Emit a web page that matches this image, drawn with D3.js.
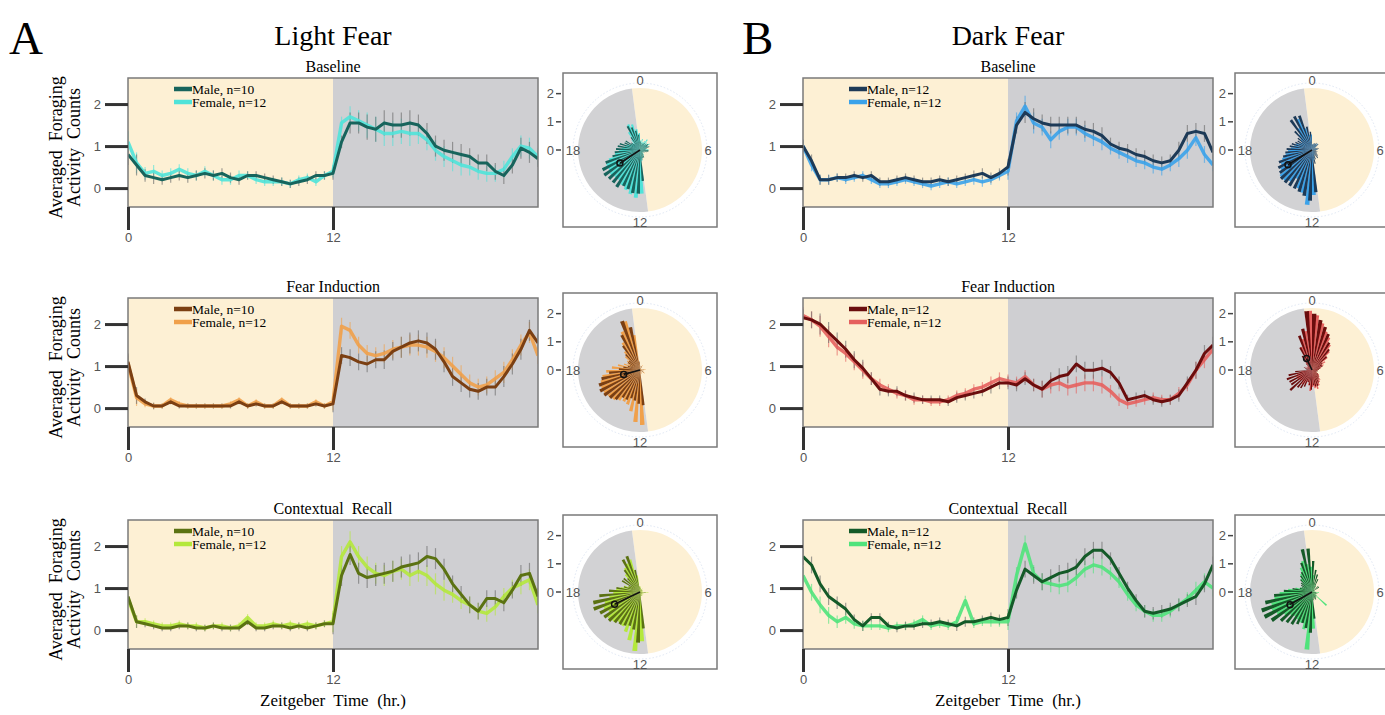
<!DOCTYPE html>
<html>
<head>
<meta charset="utf-8">
<script src="https://cdn.jsdelivr.net/npm/d3@7"></script>
<style>
  body { margin: 0; background: #fff; }
  svg { display: block; }
</style>
</head>
<body>
<svg id="fig" width="1385" height="715"></svg>
<script>
// time stamps (hr.) of the averaged bins
const hours = [0,0.5,1,1.5,2,2.5,3,3.5,4,4.5,5,5.5,6,6.5,7,7.5,8,8.5,9,9.5,10,10.5,11,11.5,12,
  12.5,13,13.5,14,14.5,15,15.5,16,16.5,17,17.5,18,18.5,19,19.5,20,20.5,21,21.5,22,22.5,23,23.5,24]

const xTicks = [0, 12]
const yTicks = [0, 1, 2]
const polarHourLabels = ["0", "6", "12", "18"]

// Light Fear
const lightBaselineMale = [0.8,0.55,0.3,0.25,0.2,0.25,0.3,0.25,0.3,0.35,0.3,0.35,0.25,0.2,0.3,0.3,0.25,0.2,0.15,0.1,0.15,0.2,0.3,0.3,0.35,
  1.1,1.55,1.55,1.45,1.4,1.55,1.5,1.5,1.55,1.5,1.3,1.0,0.9,0.85,0.8,0.75,0.6,0.6,0.4,0.3,0.55,0.95,0.85,0.7]
const lightBaselineFemale = [1.1,0.6,0.35,0.4,0.3,0.35,0.45,0.35,0.3,0.4,0.3,0.2,0.2,0.3,0.3,0.2,0.15,0.15,0.15,0.1,0.2,0.25,0.15,0.3,0.4,
  1.55,1.7,1.6,1.5,1.4,1.3,1.3,1.35,1.3,1.3,1.15,0.9,0.75,0.65,0.55,0.5,0.4,0.35,0.35,0.45,0.75,1.0,0.95,0.75]
const lightBaselineSem = [0.25,0.15,0.12,0.12,0.12,0.12,0.12,0.1,0.1,0.1,0.1,0.1,0.15,0.25,0.3,0.3,0.3,0.25,0.25,0.25,0.2,0.2,0.2,0.25,0.2]

const lightFearMale = [1.1,0.3,0.15,0.05,0.05,0.15,0.05,0.05,0.05,0.05,0.05,0.05,0.05,0.15,0.05,0.1,0.05,0.05,0.15,0.05,0.05,0.05,0.1,0.05,0.1,
  1.25,1.2,1.1,1.05,1.15,1.15,1.35,1.45,1.55,1.6,1.55,1.4,1.1,0.75,0.6,0.45,0.4,0.5,0.5,0.75,1.05,1.4,1.85,1.55]
const lightFearFemale = [1.05,0.25,0.1,0.05,0.05,0.2,0.1,0.05,0.05,0.05,0.05,0.05,0.1,0.2,0.05,0.15,0.05,0.05,0.2,0.05,0.05,0.05,0.15,0.05,0.15,
  1.95,1.85,1.5,1.3,1.25,1.3,1.4,1.45,1.5,1.5,1.45,1.35,1.2,1.0,0.8,0.6,0.5,0.55,0.7,0.85,1.15,1.5,1.8,1.25]
const lightFearSem = [0.2,0.08,0.06,0.06,0.06,0.06,0.06,0.06,0.06,0.06,0.06,0.06,0.2,0.2,0.2,0.22,0.25,0.25,0.25,0.22,0.2,0.2,0.25,0.25,0.2]

const lightRecallMale = [0.8,0.2,0.15,0.1,0.05,0.05,0.1,0.1,0.05,0.05,0.1,0.05,0.05,0.05,0.2,0.05,0.05,0.1,0.1,0.05,0.1,0.05,0.1,0.15,0.15,
  1.3,1.8,1.35,1.25,1.3,1.35,1.4,1.5,1.55,1.6,1.75,1.7,1.45,1.1,0.85,0.6,0.45,0.75,0.75,0.65,0.95,1.3,1.35,0.8]
const lightRecallFemale = [0.75,0.2,0.2,0.15,0.1,0.1,0.15,0.1,0.1,0.05,0.1,0.1,0.05,0.1,0.3,0.1,0.1,0.15,0.1,0.15,0.1,0.15,0.1,0.15,0.2,
  1.75,2.1,1.75,1.5,1.35,1.3,1.4,1.45,1.3,1.4,1.3,1.1,0.95,0.85,0.7,0.6,0.45,0.4,0.55,0.8,1.0,1.1,1.2,0.6]
const lightRecallSem = [0.15,0.08,0.08,0.08,0.08,0.08,0.08,0.08,0.08,0.08,0.08,0.08,0.25,0.25,0.25,0.25,0.25,0.25,0.25,0.2,0.2,0.2,0.2,0.25,0.2]

// Dark Fear
const darkBaselineMale = [1.0,0.65,0.2,0.2,0.25,0.25,0.3,0.25,0.3,0.15,0.15,0.2,0.25,0.2,0.15,0.15,0.2,0.15,0.2,0.25,0.3,0.35,0.25,0.35,0.5,
  1.5,1.8,1.65,1.55,1.5,1.5,1.5,1.5,1.4,1.35,1.25,1.05,0.95,0.9,0.8,0.75,0.65,0.6,0.65,0.9,1.3,1.35,1.3,0.85]
const darkBaselineFemale = [1.0,0.55,0.2,0.2,0.25,0.2,0.25,0.3,0.2,0.1,0.1,0.15,0.2,0.15,0.1,0.05,0.1,0.15,0.1,0.15,0.2,0.15,0.2,0.3,0.4,
  1.6,1.95,1.55,1.45,1.15,1.35,1.45,1.45,1.3,1.2,1.1,0.95,0.85,0.75,0.65,0.6,0.5,0.45,0.55,0.7,0.9,1.2,0.8,0.55]
const darkBaselineSem = [0.15,0.12,0.1,0.1,0.1,0.1,0.1,0.1,0.1,0.1,0.12,0.12,0.2,0.25,0.2,0.2,0.2,0.2,0.15,0.15,0.15,0.15,0.2,0.2,0.15]

const darkFearMale = [2.15,2.1,2.0,1.8,1.6,1.4,1.15,0.95,0.7,0.45,0.4,0.4,0.3,0.25,0.2,0.2,0.2,0.15,0.25,0.3,0.35,0.4,0.5,0.6,0.6,
  0.55,0.7,0.55,0.45,0.65,0.75,0.8,1.05,0.9,0.9,0.95,0.85,0.6,0.2,0.25,0.3,0.2,0.15,0.2,0.3,0.6,0.9,1.3,1.5]
const darkFearFemale = [2.2,2.1,1.95,1.7,1.45,1.3,1.1,0.9,0.7,0.55,0.45,0.35,0.3,0.2,0.2,0.15,0.15,0.2,0.3,0.35,0.45,0.5,0.6,0.7,0.65,
  0.6,0.75,0.55,0.45,0.55,0.6,0.5,0.55,0.6,0.6,0.55,0.4,0.2,0.1,0.15,0.2,0.25,0.2,0.2,0.35,0.55,0.9,1.15,1.4]
const darkFearSem = [0.2,0.25,0.2,0.2,0.15,0.12,0.12,0.1,0.1,0.12,0.12,0.15,0.15,0.15,0.2,0.2,0.2,0.2,0.15,0.12,0.12,0.12,0.15,0.2,0.2]

const darkRecallMale = [1.75,1.55,1.1,0.8,0.65,0.5,0.25,0.1,0.3,0.3,0.1,0.05,0.1,0.1,0.15,0.15,0.2,0.15,0.1,0.2,0.2,0.25,0.3,0.25,0.3,
  0.95,1.45,1.3,1.15,1.25,1.35,1.4,1.5,1.75,1.9,1.9,1.7,1.35,1.0,0.7,0.45,0.4,0.45,0.5,0.6,0.7,0.8,1.1,1.55]
const darkRecallFemale = [1.3,0.9,0.6,0.35,0.2,0.3,0.15,0.1,0.1,0.1,0.05,0.1,0.1,0.15,0.25,0.1,0.15,0.1,0.2,0.7,0.15,0.2,0.2,0.2,0.2,
  1.3,2.05,1.35,1.15,1.1,1.05,1.1,1.25,1.45,1.55,1.5,1.35,1.15,0.85,0.6,0.45,0.35,0.35,0.45,0.6,0.75,0.95,1.15,1.0]
const darkRecallSem = [0.2,0.2,0.15,0.12,0.1,0.1,0.1,0.1,0.1,0.12,0.1,0.12,0.2,0.2,0.2,0.2,0.2,0.2,0.15,0.15,0.15,0.15,0.15,0.2,0.2]

// mean activity vectors shown in the rose plots
const meanHour = [15.8, 17.0, 16.3, 15.9, 22.3, 16.0]
const meanLength = [0.85, 0.6, 1.0, 1.0, 0.45, 0.9]

const maleColors = ["#17645c", "#7b3f12", "#5b7212", "#1d3a57", "#6a0d0d", "#145a28"]
const femaleColors = ["#4fe3d9", "#f0a04a", "#b4e83c", "#3aa2ea", "#e5605e", "#4fe37b"]
const rowTitles = ["Baseline", "Fear Induction", "Contextual  Recall"]
const colTitles = ["Light Fear", "Dark Fear"]
const colLetters = ["A", "B"]
const maleN = [10, 12]
const femaleN = [12, 12]

const series = [
  [lightBaselineMale, lightBaselineFemale, lightBaselineSem],
  [lightFearMale, lightFearFemale, lightFearSem],
  [lightRecallMale, lightRecallFemale, lightRecallSem],
  [darkBaselineMale, darkBaselineFemale, darkBaselineSem],
  [darkFearMale, darkFearFemale, darkFearSem],
  [darkRecallMale, darkRecallFemale, darkRecallSem]
]

const serif = "'Liberation Serif', 'Times New Roman', serif"
const sans = "'Liberation Sans', Arial, sans-serif"
const cream = "#fdf0d4"
const night = "#cfcfd2"

const boxLeft = [128, 803]
const polarLeft = [563, 1235]
const rowTop = [78, 298, 520]
const boxW = 410, boxH = 129, polarSize = 154

const svg = d3.select("#fig")

const x = d3.scaleLinear().domain([0, 24]).range([0, boxW])
const y = d3.scaleLinear().domain([-0.45, 2.62]).range([boxH, 0])
const r = d3.scaleLinear().domain([0, 2.2]).range([0, 62])
// rose plot is rotated half an hour back, like the original
const angle = d3.scaleLinear().domain([0, 24]).range([0, 2 * Math.PI])
const rotate = -0.5

// column headings
colTitles.forEach(function(t, c) {
  svg.append("text").text(colLetters[c])
    .attr("x", c == 0 ? 9 : 742).attr("y", 54)
    .attr("font-family", serif).attr("font-size", "47px")
  svg.append("text").text(t)
    .attr("x", boxLeft[c] + x(12)).attr("y", 45)
    .attr("text-anchor", "middle")
    .attr("font-family", serif).attr("font-size", "28px")
})

svg.append("defs").append("clipPath").attr("id", "box")
  .append("rect").attr("width", boxW).attr("height", boxH)

series.forEach(function(s, i) {

  let c = Math.floor(i / 3), row = i % 3
  let male = s[0], female = s[1], sem = s[2]
  let g = svg.append("g").attr("transform", "translate(" + boxLeft[c] + "," + rowTop[row] + ")")

  g.append("text").text(rowTitles[row])
    .attr("x", x(12)).attr("y", -6)
    .attr("text-anchor", "middle")
    .attr("font-family", serif).attr("font-size", "16px")
    .style("white-space", "pre")

  g.append("rect").attr("x", x(0)).attr("width", x(12) - x(0)).attr("height", boxH).attr("fill", cream)
  g.append("rect").attr("x", x(12)).attr("width", x(24) - x(12)).attr("height", boxH).attr("fill", night)

  let plot = g.append("g").attr("clip-path", "url(#box)")

  let groups = [[female, femaleColors[i], 0.6], [male, "#6f6f6f", 0.65]]

  groups.forEach(function(grp) {
    plot.append("g").selectAll("line")
      .data(grp[0])
      .enter()
      .append("line")
      .attr("x1", function(d, k) { return x(hours[k]) })
      .attr("x2", function(d, k) { return x(hours[k]) })
      .attr("y1", function(d, k) { return y(d - sem[Math.floor(hours[k])]) })
      .attr("y2", function(d, k) { return y(d + sem[Math.floor(hours[k])]) })
      .attr("stroke", grp[1])
      .attr("stroke-opacity", grp[2])
      .attr("stroke-width", 1.2)
  })

  let line = d3.line().x(function(d, k) { return x(hours[k]) }).y(function(d) { return y(d) })

  plot.append("path").datum(female).attr("d", line)
    .attr("fill", "none").attr("stroke", femaleColors[i]).attr("stroke-width", 3.4)
    .attr("stroke-linejoin", "round").attr("stroke-opacity", 0.9)
  plot.append("path").datum(male).attr("d", line)
    .attr("fill", "none").attr("stroke", maleColors[i]).attr("stroke-width", 3)
    .attr("stroke-linejoin", "round")

  g.append("rect").attr("width", boxW).attr("height", boxH)
    .attr("fill", "none").attr("stroke", "#7a7a7a").attr("stroke-width", 1.5)

  // legend
  let legend = [["Male, n=" + maleN[c], maleColors[i]], ["Female, n=" + femaleN[c], femaleColors[i]]]
  legend.forEach(function(l, k) {
    g.append("line").attr("x1", 46).attr("x2", 64)
      .attr("y1", 11 + k * 13).attr("y2", 11 + k * 13)
      .attr("stroke", l[1]).attr("stroke-width", 4.5)
    g.append("text").text(l[0])
      .attr("x", 64).attr("y", 15.5 + k * 13)
      .attr("font-family", serif).attr("font-size", "13.5px")
  })

  // axes
  let yAxis = g.append("g").call(d3.axisLeft(y).tickValues(yTicks).tickFormat(d3.format("d")).tickSize(23).tickPadding(4))
  let xAxis = g.append("g").attr("transform", "translate(0," + boxH + ")")
    .call(d3.axisBottom(x).tickValues(xTicks).tickFormat(d3.format("d")).tickSize(23).tickPadding(3))

  ;[yAxis, xAxis].forEach(function(a) {
    a.select(".domain").remove()
    a.selectAll(".tick line").attr("stroke", "#333").attr("stroke-width", 3)
    a.selectAll(".tick text").attr("fill", "#555").attr("font-family", sans).attr("font-size", "13px")
  })

  if (c == 0) {
    ;["Averaged  Foraging", "Activity  Counts"].forEach(function(t, k) {
      g.append("text").text(t)
        .attr("transform", "translate(" + (-66 + k * 18) + "," + (boxH / 2 + 5) + ") rotate(-90)")
        .attr("text-anchor", "middle")
        .attr("font-family", serif).attr("font-size", "18px")
        .style("white-space", "pre")
    })
  }

  if (row == 2) {
    g.append("text").text("Zeitgeber  Time  (hr.)")
      .attr("x", x(12)).attr("y", boxH + 57)
      .attr("text-anchor", "middle")
      .attr("font-family", serif).attr("font-size", "17px")
      .style("white-space", "pre")
  }

  // rose plot
  let px = polarLeft[c], py = rowTop[row] - 5
  let cx = px + polarSize / 2, cy = py + polarSize / 2
  let p = svg.append("g")

  p.append("rect").attr("x", px).attr("y", py).attr("width", polarSize).attr("height", polarSize)
    .attr("fill", "#fff").attr("stroke", "#7a7a7a").attr("stroke-width", 1.5)

  let pg = p.append("g").attr("transform", "translate(" + cx + "," + cy + ")")

  pg.append("circle").attr("r", 67).attr("fill", "none")
    .attr("stroke", "#dfe7f4").attr("stroke-width", 1).attr("stroke-dasharray", "1.5,2")

  let arc = d3.arc()
  pg.append("path").attr("d", arc({innerRadius: 0, outerRadius: r(2.2), startAngle: angle(rotate), endAngle: angle(12 + rotate)}))
    .attr("fill", cream)
  pg.append("path").attr("d", arc({innerRadius: 0, outerRadius: r(2.2), startAngle: angle(12 + rotate), endAngle: angle(24 + rotate)}))
    .attr("fill", "#d2d2d4")

  let bins = hours.slice(1)
  let binW = 0.5

  pg.append("g").selectAll("path")
    .data(bins)
    .enter()
    .append("path")
    .attr("d", function(h, k) {
      let a0 = h - binW + rotate
      return arc({innerRadius: 0, outerRadius: r(female[k + 1]), startAngle: angle(a0 + 0.18), endAngle: angle(a0 + binW)})
    })
    .attr("fill", femaleColors[i])

  pg.append("g").selectAll("path")
    .data(bins)
    .enter()
    .append("path")
    .attr("d", function(h, k) {
      let a0 = h - binW + rotate
      return arc({innerRadius: 0, outerRadius: r(male[k + 1]), startAngle: angle(a0), endAngle: angle(a0 + 0.3)})
    })
    .attr("fill", maleColors[i])

  let ma = angle(meanHour[i]), ml = r(meanLength[i])
  pg.append("line").attr("x1", 0).attr("y1", 0)
    .attr("x2", ml * Math.sin(ma)).attr("y2", -ml * Math.cos(ma))
    .attr("stroke", "#111").attr("stroke-width", 1.6)
  pg.append("circle").attr("cx", ml * Math.sin(ma)).attr("cy", -ml * Math.cos(ma)).attr("r", 3)
    .attr("fill", "none").attr("stroke", "#111").attr("stroke-width", 1.5)

  // radial axis
  yTicks.forEach(function(v) {
    p.append("line").attr("x1", px - 7).attr("x2", px - 2)
      .attr("y1", cy - r(v)).attr("y2", cy - r(v))
      .attr("stroke", "#444").attr("stroke-width", 1.5)
    p.append("text").text(v)
      .attr("x", px - 9).attr("y", cy - r(v) + 4.5)
      .attr("text-anchor", "end")
      .attr("fill", "#555").attr("font-family", sans).attr("font-size", "13px")
  })

  // hour labels round the dial
  polarHourLabels.forEach(function(t) {
    let a = angle(+t)
    pg.append("text").text(t)
      .attr("x", 68 * Math.sin(a) + (t == "18" ? 1 : 0))
      .attr("y", -70 * Math.cos(a) + 4.5 + (t == "12" ? 2 : 0))
      .attr("text-anchor", "middle")
      .attr("fill", "#555").attr("font-family", sans).attr("font-size", "13px")
  })
})
</script>
</body>
</html>
